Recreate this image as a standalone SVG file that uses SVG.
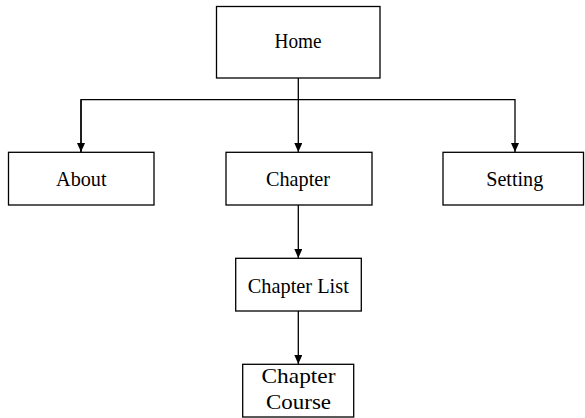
<svg xmlns="http://www.w3.org/2000/svg" width="585" height="418" viewBox="0 0 585 418">
<defs>
<marker id="arr" markerWidth="9" markerHeight="8" refX="9" refY="4" orient="auto" markerUnits="userSpaceOnUse">
<path d="M0,0 L9,4 L0,8 Z" fill="#000"/>
</marker>
<style>
.box{fill:#fff;stroke:#000;stroke-width:1.3}
.lbl{font-family:"Liberation Serif","Times New Roman",serif;font-size:22px;fill:#000;text-anchor:middle}
.con{fill:none;stroke:#000;stroke-width:1.3}
</style>
</defs>
<rect width="585" height="418" fill="#fff"/>
<g id="connectors">
<path class="con" d="M298.3,78 V99.7"/>
<path class="con" d="M81,152 V99.7 H515 V152" marker-end="url(#arr)"/>
<path class="con" d="M81,99.7 V152" marker-end="url(#arr)"/>
<path class="con" d="M298.3,99.7 V152" marker-end="url(#arr)"/>
<path class="con" d="M298.3,205 V258" marker-end="url(#arr)"/>
<path class="con" d="M298.3,311 V364" marker-end="url(#arr)"/>
</g>
<g id="home">
<rect class="box" x="216.5" y="6.5" width="163.5" height="71.5"/>
<text class="lbl" x="298" y="48" textLength="47" lengthAdjust="spacingAndGlyphs">Home</text>
</g>
<g id="about">
<rect class="box" x="8.5" y="152.3" width="145.5" height="52.7"/>
<text class="lbl" x="81.3" y="186" textLength="50.5" lengthAdjust="spacingAndGlyphs">About</text>
</g>
<g id="chapter">
<rect class="box" x="226" y="152.3" width="146" height="52.7"/>
<text class="lbl" x="298" y="186" textLength="64" lengthAdjust="spacingAndGlyphs">Chapter</text>
</g>
<g id="setting">
<rect class="box" x="443" y="152.3" width="140.5" height="52.7"/>
<text class="lbl" x="514.7" y="186" textLength="57" lengthAdjust="spacingAndGlyphs">Setting</text>
</g>
<g id="chapter-list">
<rect class="box" x="235.7" y="258.3" width="125.6" height="52.7"/>
<text class="lbl" x="298.3" y="293" textLength="101" lengthAdjust="spacingAndGlyphs">Chapter List</text>
</g>
<g id="chapter-course">
<rect class="box" x="242.7" y="364.3" width="111" height="52.7"/>
<text class="lbl" x="298.5" y="383" textLength="74" lengthAdjust="spacingAndGlyphs">Chapter</text>
<text class="lbl" x="298.5" y="408.5" textLength="65" lengthAdjust="spacingAndGlyphs">Course</text>
</g>
</svg>
